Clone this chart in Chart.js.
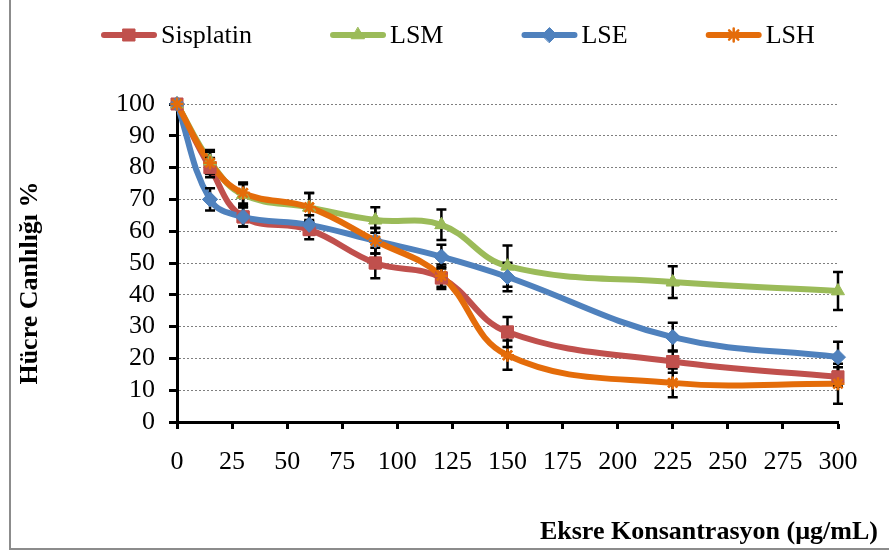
<!DOCTYPE html>
<html><head><meta charset="utf-8">
<script src="https://cdn.jsdelivr.net/npm/chart.js@4.4.0/dist/chart.umd.min.js"></script>
<style>html,body{margin:0;padding:0;background:#fff;} #wrap{width:889px;height:553px;position:relative}</style>
</head><body><div id="wrap"><canvas id="c" width="889" height="553"></canvas></div>
<script>
// ---- data ----
const concentrations = [0, 15, 30, 60, 90, 120, 150, 225, 300];
const seriesNames = ['Sisplatin', 'LSM', 'LSE', 'LSH'];
const sisplatin    = [100, 80, 64.5, 60.5, 50, 45.3, 28.3, 19, 14.2];
const sisplatinErr = [0, 3, 3, 3, 4.8, 3.5, 4.7, 3.5, 3];
const lsm          = [100, 82, 71.5, 67.5, 63.5, 62, 49, 44, 41.2];
const lsmErr       = [0, 3.5, 3.3, 4.5, 4, 4.8, 6.5, 5, 6];
const lse          = [100, 70, 64.5, 62, 57, 52, 45.6, 26.7, 20.4];
const lseErr       = [0, 3.5, 3, 3, 4, 3.7, 4.5, 4.5, 4.8];
const lsh          = [100, 81.5, 72, 67.5, 57, 46, 21, 12.3, 12];
const lshErr       = [0, 3.5, 3.3, 4.5, 4, 3.5, 4.6, 4.5, 6.3];
const xTickLabels = [0, 25, 50, 75, 100, 125, 150, 175, 200, 225, 250, 275, 300];
const yTickLabels = [0, 10, 20, 30, 40, 50, 60, 70, 80, 90, 100];
const yTitle = 'Hücre Canlılığı %';
const xTitle = 'Eksre Konsantrasyon (µg/mL)';

// ---- styles ----
const values = [sisplatin, lsm, lse, lsh];
const errors = [sisplatinErr, lsmErr, lseErr, lshErr];
const colors = ['#C0504D', '#9BBB59', '#4F81BD', '#E46C0A'];
const pStyles = ['rect', 'triangle', 'rectRot', 'star'];
const pRadius = [8.5, 7.5, 7.5, 6.5];
const SERIF = '"Liberation Serif", "Times New Roman", serif';

const datasets = seriesNames.map((name, i) => ({
  label: name,
  data: concentrations.map((x, j) => ({x: x, y: values[i][j]})),
  borderColor: colors[i],
  backgroundColor: colors[i],
  borderWidth: 6,
  borderCapStyle: 'round',
  borderJoinStyle: 'round',
  pointStyle: pStyles[i],
  pointRadius: pRadius[i],
  pointBorderWidth: i === 3 ? 2.5 : 1,
  pointBorderColor: colors[i],
  pointBackgroundColor: colors[i],
  tension: 0.4,
  order: 4 - i
}));

const overlayPlugin = {
  id: 'overlay',
  afterDatasetsDraw(chart) {
    const ctx = chart.ctx, ys = chart.scales.y;
    ctx.save();
    ctx.strokeStyle = '#000';
    ctx.lineWidth = 2.5;
    errors.forEach((errArr, di) => {
      const meta = chart.getDatasetMeta(di);
      meta.data.forEach((pt, j) => {
        const e = errArr[j];
        if (!e) return;
        const v = values[di][j];
        const yt = ys.getPixelForValue(v + e), yb = ys.getPixelForValue(v - e);
        const x = pt.x, cw = 5;
        ctx.beginPath();
        ctx.moveTo(x, yt); ctx.lineTo(x, yb);
        ctx.moveTo(x - cw, yt); ctx.lineTo(x + cw, yt);
        ctx.moveTo(x - cw, yb); ctx.lineTo(x + cw, yb);
        ctx.stroke();
      });
    });
    ctx.restore();
    const metas = chart.getSortedVisibleDatasetMetas();
    for (let i = metas.length - 1; i >= 0; i--) {
      metas[i].data.forEach(p => p.draw(ctx, chart.chartArea));
    }
  },
  afterDraw(chart) {
    const ctx = chart.ctx;
    ctx.save();
    // frame
    ctx.strokeStyle = '#8c8c8c';
    ctx.lineWidth = 2;
    ctx.beginPath();
    ctx.moveTo(10, 0); ctx.lineTo(10, 549); ctx.lineTo(889, 549);
    ctx.stroke();
    // axis titles
    ctx.fillStyle = '#000';
    ctx.font = 'bold 26px ' + SERIF;
    ctx.textBaseline = 'middle';
    ctx.textAlign = 'right';
    ctx.fillText(xTitle, 878, 532);
    ctx.save();
    ctx.translate(30, 283);
    ctx.rotate(-Math.PI / 2);
    ctx.textAlign = 'center';
    ctx.fillText(yTitle, 0, 0);
    ctx.restore();
    // legend
    ctx.font = '26px ' + SERIF;
    ctx.textAlign = 'left';
    let x = 102;
    const ly = 35;
    seriesNames.forEach((name, i) => {
      ctx.strokeStyle = colors[i];
      ctx.fillStyle = colors[i];
      ctx.lineWidth = 6;
      ctx.lineCap = 'round';
      ctx.beginPath(); ctx.moveTo(x + 2, ly); ctx.lineTo(x + 52, ly); ctx.stroke();
      ctx.lineWidth = i === 3 ? 2.5 : 1;
      Chart.helpers.drawPoint(ctx, {pointStyle: pStyles[i], radius: pRadius[i], borderWidth: ctx.lineWidth, rotation: 0}, x + 27, ly);
      ctx.fillStyle = '#000';
      ctx.fillText(name, x + 59, ly + 1);
      x = x + 59 + ctx.measureText(name).width + 79;
    });
    ctx.restore();
  }
};

new Chart(document.getElementById('c'), {
  type: 'line',
  data: {datasets: datasets},
  options: {
    responsive: false,
    animation: false,
    layout: {padding: {left: 0, right: 51, top: 104, bottom: 0}},
    plugins: {legend: {display: false}, tooltip: {enabled: false}},
    scales: {
      x: {
        type: 'linear', min: 0, max: 300,
        afterBuildTicks: s => { s.ticks = xTickLabels.map(v => ({value: v})); },
        afterFit: s => { s.height = 131; },
        ticks: {color: '#000', font: {family: SERIF, size: 26}, padding: 18, maxRotation: 0, autoSkip: false},
        grid: {drawOnChartArea: false, drawTicks: true, tickLength: 7, tickWidth: 3, tickColor: '#000'},
        border: {color: '#000', width: 3}
      },
      y: {
        min: 0, max: 100,
        afterBuildTicks: s => { s.ticks = yTickLabels.map(v => ({value: v})); },
        afterFit: s => { s.width = 177; },
        ticks: {color: '#000', font: {family: SERIF, size: 26}, padding: 14, autoSkip: false},
        grid: {
          color: c => (c.tick && c.tick.value === 0) ? 'rgba(0,0,0,0)' : '#7f7f7f',
          lineWidth: 1, tickLength: 8, tickWidth: 3, tickColor: '#000'
        },
        border: {color: '#000', width: 3, dash: [2, 2]}
      }
    }
  },
  plugins: [overlayPlugin]
});
</script></body></html>
